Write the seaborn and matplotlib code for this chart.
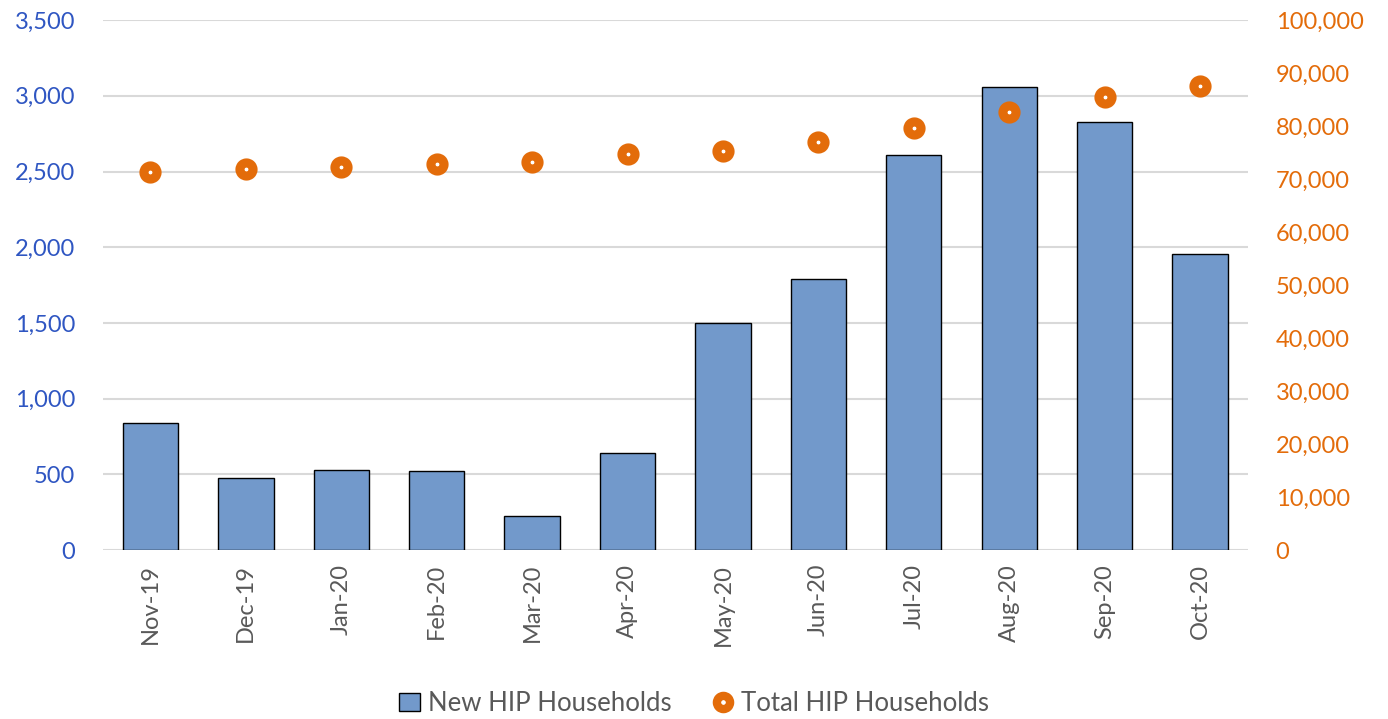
import numpy as np
import pandas as pd
import matplotlib
matplotlib.use("Agg")
import matplotlib.pyplot as plt
from matplotlib.lines import Line2D
from matplotlib.patches import Patch
from matplotlib.ticker import FuncFormatter
import seaborn as sns

months = ["Nov-19", "Dec-19", "Jan-20", "Feb-20", "Mar-20", "Apr-20",
          "May-20", "Jun-20", "Jul-20", "Aug-20", "Sep-20", "Oct-20"]
new_hip = [841, 478, 526, 521, 226, 641, 1499, 1787, 2606, 3058, 2825, 1958]
total_hip = [71380, 71860, 72340, 72890, 73160, 74740,
             75290, 77080, 79620, 82700, 85520, 87510]

bar_color = "#7299CB"
orange = "#E36C0A"
blue_txt = "#2F56C2"
gray_txt = "#595959"

sns.set_style("white")
plt.rcParams["font.family"] = ["Lato", "DejaVu Sans"]

df = pd.DataFrame({"month": months, "new": new_hip, "total": total_hip})

fig = plt.figure(figsize=(13.88, 7.19), dpi=100)
ax = fig.add_axes([0.074, 0.235, 0.825, 0.737])

# bars on the left axis
sns.barplot(data=df, x="month", y="new", ax=ax, color=bar_color, saturation=1,
            width=0.58, edgecolor="black", linewidth=1)
ax.set_ylim(0, 3500)
ax.set_yticks(np.arange(0, 3501, 500))
ax.yaxis.set_major_formatter(FuncFormatter(lambda v, p: f"{int(v):,}"))
ax.grid(axis="y", color="#D9D9D9", linewidth=1.5)
ax.set_axisbelow(True)
ax.set_xlabel("")
ax.set_ylabel("")
ax.tick_params(axis="y", colors=blue_txt, labelsize=17, length=0, pad=20)
ax.tick_params(axis="x", colors=gray_txt, labelsize=17, length=0, pad=10, labelrotation=90)
for s in ax.spines.values():
    s.set_visible(False)

# totals on the right axis
ax2 = ax.twinx()
sns.scatterplot(x=np.arange(len(months)), y=df["total"], ax=ax2, s=90,
                color="white", edgecolor=orange, linewidth=6.5, zorder=5)
ax2.set_ylim(0, 100000)
ax2.set_yticks(np.arange(0, 100001, 10000))
ax2.yaxis.set_major_formatter(FuncFormatter(lambda v, p: f"{int(v):,}"))
ax2.set_ylabel("")
ax2.tick_params(axis="y", colors=orange, labelsize=17, length=0, pad=20)
for s in ax2.spines.values():
    s.set_visible(False)
ax.set_xlim(-0.5, len(months) - 0.5)

handles = [Patch(facecolor=bar_color, edgecolor="black", linewidth=1),
           Line2D([], [], linestyle="none", marker="o", markersize=9.5,
                  markerfacecolor="white", markeredgecolor=orange, markeredgewidth=6)]
leg = fig.legend(handles, ["New HIP Households", "Total HIP Households"],
                 loc="center", bbox_to_anchor=(0.5, 0.022), ncol=2, frameon=False,
                 fontsize=18.5, handlelength=0.8, handletextpad=0.3, columnspacing=1.6)
for t in leg.get_texts():
    t.set_color(gray_txt)

fig.savefig("out.png", dpi=100)
